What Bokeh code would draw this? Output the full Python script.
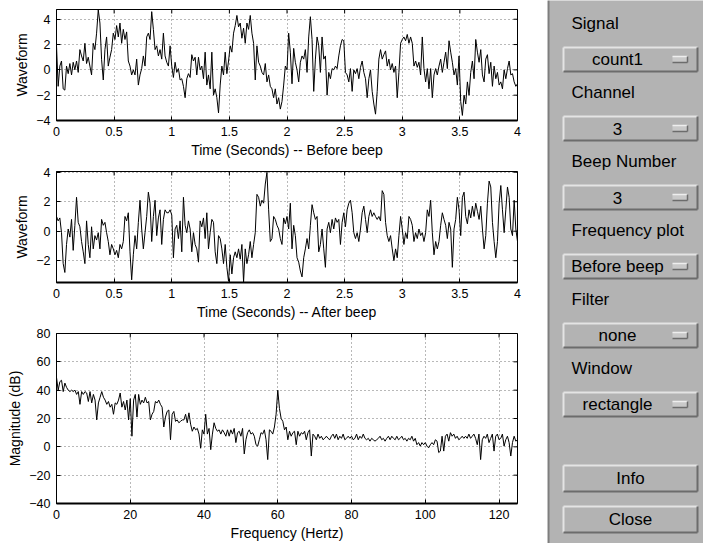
import numpy as np
from bokeh.plotting import figure
from bokeh.models import Range1d, FixedTicker, ColumnDataSource
from bokeh.layouts import row, column
from bokeh.embed import file_html
from bokeh.resources import INLINE
from bokeh.core.properties import value

FONT = "Liberation Sans"

# ---------------- data ----------------
wave_before = [
    1.9, -1.3, 0.3, 0.7, -1.5, -1.6, 0.3, -0.3, 0.5, -0.4,
    0.6, 0.0, 0.7, -0.2, 1.6, 1.1, 0.7, 2.1, 0.5, 1.0,
    0.3, -0.4, 2.1, 1.6, 2.9, 4.75, 3.7, 0.8, -0.8, 1.6,
    2.6, 0.3, 1.0, 1.6, 2.9, 2.4, 3.5, 2.6, 3.7, 2.1,
    3.2, 2.4, 3.0, 0.7, 0.3, -0.4, 0.0, -0.4, 0.85, -1.2,
    -0.4, 0.1, 1.1, 0.3, 2.6, 2.9, 2.4, 4.6, 3.2, 1.6,
    1.9, 1.1, 1.6, 0.85, 2.9, 1.1, 0.6, 0.3, 1.9, 0.3,
    -0.6, 0.6, -0.2, 0.1, -0.8, -0.7, -1.3, -2.2, -0.7, -0.3,
    -0.6, 1.2, 0.7, 1.0, -0.4, 1.0, 0.0, 0.3, -0.7, 1.4,
    -1.2, -0.4, -1.5, 1.4, -2.0, -1.5, -2.2, -3.4, -1.2, 0.3,
    -0.4, 1.4, -0.3, 0.7, 1.9, 1.4, 2.9, 3.5, 4.3, 3.4,
    3.7, 2.5, 3.3, 2.1, 3.7, 3.2, 4.3, 2.9, 2.1, -0.8,
    1.9, 0.6, 0.3, -0.2, -0.4, 0.5, -0.95,
    -0.4, -1.3, -1.5, -2.2, -1.5, -2.7, -2.2, -3.1, -2.5, -1.2,
    0.3, 0.0, 2.9, 1.4, -1.1, 1.7, 0.6, 0.0, -0.95, 0.6,
    1.1, 0.85, 1.6, -0.2, 2.6, 4.2, 2.4, -1.7, 0.85, 2.6,
    1.9, -0.2, 2.6, 0.85, 1.1, -2.0, -0.2, -0.7, 0.1, 0.0,
    0.3, 0.1, 1.1, 1.9, 2.4, 2.3, -0.2, -0.4, -0.95, 0.1,
    -1.7, 0.0, -0.3, 0.1, -0.7, 0.2, 0.7, -0.2, -0.7, -2.2,
    -0.7, 0.0, -1.7, -2.7, -3.5, -1.7, 0.85, 1.6, 0.85, 1.2,
    1.5, 0.3, 0.85, 0.0, 0.5, -0.2, 0.3, -2.2, -0.2, 2.1,
    2.4, 2.6, 2.3, 2.8, 2.1, 2.6, 2.1, 0.3, 0.7, 0.2,
    0.6, -0.4, 2.6, 0.1, -0.95, 0.1, -1.5, 0.1, -2.2, -0.4,
    0.1, -0.4, 0.3, 0.85, -0.2, 0.6, 1.4, 0.1, 2.3, 1.4,
    0.6, -0.4, 0.1, -1.2, 1.1, -2.5, -3.6, -2.0, -2.7, -0.95,
    -2.0, -0.2, 0.7, -0.7, 2.4, 1.4, 0.6, 1.6, -0.4, -0.95,
    0.85, 1.2, -0.3, 0.6, -1.3, 0.3, -0.7, -0.2, -1.2, -0.95,
    -1.5, 0.0, -0.7, 0.1, 0.7, -0.4, -0.3, -0.95, -1.3, -1.1,
]

wave_after = [
    1.0, 0.7, 0.9, -0.1, -2.2, -2.8, -0.9, 0.15, -0.4, 0.8,
    -1.3, 0.4, 2.3, 0.6, 0.3, -0.7, -1.4, -2.2, 0.7, -0.9,
    -1.8, 0.3, -1.2, -0.3, -0.6, -0.1, -1.2, 0.8, 0.4, 0.6,
    -0.1, -0.7, -1.6, -0.9, -1.2, -1.6, -1.3, -1.8, -0.9, -1.2,
    -0.7, 1.0, 0.7, 1.25, -1.4, -3.3, -1.6, -0.3, -1.2, 0.6,
    2.1, 0.15, -1.2, -0.1, 1.0, 2.65, 1.9, -0.7, 1.0, 2.1,
    -0.3, 0.9, 1.45, -0.9, 0.8, 1.45, 1.25, 1.25, 1.45, 1.1,
    -1.8, 0.15, 0.4, -0.5, 0.7, -1.4, 2.3, 0.4, -0.1, 0.7,
    0.15, -1.4, -0.1, -0.9, -1.2, -2.1, 0.7, 0.3, 0.9, -0.5,
    1.25, -1.2, -0.1, 0.8, 0.6, -1.4, -2.2, -0.3, -0.5, -1.2,
    -2.2, -0.9, -2.45, -3.4, -1.6, -2.9, -1.8, -1.4, -1.8, -1.2,
    -1.9, -0.9, -3.45, -1.2, -2.2, -1.6, -0.7, -1.8, -0.9, -0.1,
    2.5, 2.3, 1.7, 2.1, 1.9, 3.2, 4.0,
    1.45, -0.7, -0.5, 1.0, 0.8, 0.4, 0.15, -0.5, -0.9, 0.9,
    0.5, 1.0, 0.15, 1.9, -1.2, 0.4, -0.3, -1.8, -2.1, -2.7,
    -3.1, -1.8, -1.2, -0.5, -1.2, 0.4, 1.8, 1.25, 0.8, 1.0,
    -1.4, -0.9, 0.15, -1.2, -2.45, 0.15, 0.6, -0.1, 0.8, 0.15,
    0.9, 0.6, 0.8, -0.9, 0.6, 1.25, 0.3, 1.45, 1.9, 2.1,
    1.25, -0.1, -0.5, -0.1, -0.7, 0.15, 1.25, 1.7, 0.8, -0.1,
    1.0, 1.45, 1.0, 1.25, 1.0, 0.8, 1.0, 0.7, 2.75, 2.5,
    0.6, -0.3, -0.7, -0.3, -1.2, -2.0, -1.2, -1.8, -0.3, 1.0,
    0.15, -0.9, -0.1, -0.5, 1.0, 0.8, 0.4, -0.7, -0.1, -0.5,
    0.15, -0.3, -0.1, -0.7, -0.1, 1.45, 1.0, 2.1, -0.1, -1.6,
    -0.7, -1.2, -0.7, 0.4, 1.25, 0.8, 0.4, -0.5, 0.6, 0.15,
    -2.45, 0.15, 0.8, 2.3, 1.45, -0.3, 2.3, 2.65, 1.0, 0.5,
    1.45, 0.9, 1.7, 1.0, 1.9, 1.35, 0.8, 1.7, 0.15, -1.2,
    -0.3, 1.9, 3.4, 3.0, 0.6, -0.7, -1.8, -0.7, 1.9, 3.1,
    1.45, -0.1, 1.45, 3.0, 2.3, 0.15, -0.3, 2.1, 0.15, -0.7,
]

spectrum_db = [
    49, 40, 46, 47, 39, 45, 42, 40, 39, 40,
    39, 40, 37, 39, 30, 39, 37, 39, 38, 32,
    39, 31, 37, 33, 19, 31, 35, 39, 35, 33,
    30, 32, 28, 30, 23, 31, 30, 33, 38, 28,
    32, 26, 33, 19, 34, 7.5, 33, 37, 21, 37,
    30, 33, 31, 35, 31, 32, 19, 23, 25, 32,
    31, 33, 30, 28, 14, 21, 25, 26, 5, 23,
    25, 18, 19, 17, 18, 19, 19, 23, 17, 24,
    16, 11, 14, 12, 13, 9, -1, 12, 9, 23,
    9, 13, -2, 9, 17, 13, 11, 12, 9, 12,
    10, 7.5, 12, 7.5, 12, 9, 13, 3, 10, 11,
    7.5, 13, -5, 5, 10, 12, 9, 10, 7.5, 1.5,
    0.5, 5, 10, 9, 12, 5, -9, 12,
    11, 9, 14, 23, 40, 27, 20, 18, 12, 14,
    5, 11, 7.5, 10, 11, 1.5, 11, 7.5, 10, 9,
    11, 5, 10, 12, -6.5, 9, 7.5, 5, 9, 6,
    7.5, 5, 6, 7.5, 6, 5, 7.5, 9, 6, 9,
    5, 7.5, 6, 9, 5, 6, 7.5, 6, 7.5, 5,
    6, 9, 5, 7.5, 6, 9, 6, 5, 6, 4,
    6, 5, 4, 5, 6, 7.5, 5, 6, 4, 6,
    7.5, 5, 7.5, 6, 5, 7.5, 5, 6, 7.5, 5,
    6, 4, 6, 5, 7.5, 4, 6, 1.5, 3, 0.5,
    3, 1.5, 3, 0.5, -0.7, 1.5, 3, 1.5, 5, 4,
    -4, -3, 7.5, -3, 7.5, 9, 4, 10, 7.5, 9,
    6, 7.5, 5, 6, 7.5, 6, 7.5, 6, 9, 6,
    7.5, 9, 6, 1.5, 9, -9, 5, 7.5, 6, 9,
    3, 6, 9, -3, 7.5, 9, 5, 6, 9, 0.5,
    5, 7.5, 3, -6.5, 3, 7.5, 4, 5,
]

duration_s = 4.0
freq_max_hz = 125.0

time_ticks = [0, 0.5, 1, 1.5, 2, 2.5, 3, 3.5, 4]
time_tick_labels = ["0", "0.5", "1", "1.5", "2", "2.5", "3", "3.5", "4"]
wave_ticks = [-4, -2, 0, 2, 4]
wave_tick_labels = ["\u22124", "\u22122", "0", "2", "4"]
freq_ticks = [0, 20, 40, 60, 80, 100, 120]
freq_tick_labels = ["0", "20", "40", "60", "80", "100", "120"]
mag_ticks = [-40, -20, 0, 20, 40, 60, 80]
mag_tick_labels = ["\u221240", "\u221220", "0", "20", "40", "60", "80"]

panel_labels = ["Signal", "Channel", "Beep Number", "Frequency plot", "Filter", "Window"]
panel_choices = ["count1", "3", "3", "Before beep", "none", "rectangle"]
panel_buttons = ["Info", "Close"]

# ---------------- helpers ----------------
def style_axis(ax, ticks, labels, line_width=1):
    ax.ticker = FixedTicker(ticks=ticks)
    ax.major_label_overrides = {t: l for t, l in zip(ticks, labels)}
    ax.axis_line_color = "black"
    ax.axis_line_width = line_width
    ax.major_tick_line_color = "black"
    ax.major_tick_in = 4
    ax.major_tick_out = 0
    ax.minor_tick_line_color = None
    ax.major_label_text_font = FONT
    ax.major_label_text_font_size = "12.5px"
    ax.major_label_text_color = "black"
    ax.major_label_standoff = 6
    ax.axis_label_text_font = FONT
    ax.axis_label_text_font_size = "14px"
    ax.axis_label_text_font_style = "normal"
    ax.axis_label_text_color = "black"
    ax.axis_label_standoff = 3


def make_plot(x, y, xr, yr, xt, xl, yt, yl, xlabel, ylabel, height, top, bottom):
    p = figure(width=547, height=height, x_range=Range1d(*xr), y_range=Range1d(*yr),
               output_backend="svg", toolbar_location=None,
               min_border_left=56, min_border_right=30,
               min_border_top=top, min_border_bottom=bottom,
               background_fill_color="white", border_fill_color="white",
               outline_line_color="black", x_axis_label=xlabel, y_axis_label=ylabel)
    style_axis(p.xaxis[0], xt, xl, line_width=2)
    style_axis(p.yaxis[0], yt, yl)
    p.xgrid.ticker = FixedTicker(ticks=xt)
    p.ygrid.ticker = FixedTicker(ticks=yt)
    for g in (p.xgrid, p.ygrid):
        g.grid_line_color = "#000000"
        g.grid_line_alpha = 0.55
        g.grid_line_dash = "1 3"
        g.grid_line_width = 1
    # inward tick marks on the top and right edges of the box
    p.scatter(x=xt, y=[yr[1]] * len(xt), marker="dash", angle=np.pi / 2, size=8,
              line_color="black", line_width=1)
    p.scatter(x=[xr[1]] * len(yt), y=yt, marker="dash", size=8,
              line_color="black", line_width=1)
    src = ColumnDataSource(dict(x=x, y=y))
    p.line("x", "y", source=src, line_color="black", line_width=1)
    return p


t1 = np.linspace(0, duration_s, len(wave_before))
t2 = np.linspace(0, duration_s, len(wave_after))
fq = np.linspace(0, freq_max_hz, len(spectrum_db))

p1 = make_plot(t1, wave_before, (0, 4), (-4, 4.77), time_ticks, time_tick_labels,
               wave_ticks, wave_tick_labels, "Time (Seconds) -- Before beep", "Waveform",
               160, 9, 36)
p2 = make_plot(t2, wave_after, (0, 4), (-3.48, 4.05), time_ticks, time_tick_labels,
               wave_ticks, wave_tick_labels, "Time (Seconds) -- After beep", "Waveform",
               162, 11, 36)
p3 = make_plot(fq, spectrum_db, (0, 125), (-40, 80), freq_ticks, freq_tick_labels,
               mag_ticks, mag_tick_labels, "Frequency (Hertz)", "Magnitude (dB)",
               221, 11, 39)

# ---------------- control panel ----------------
GRAY = "#b3b3b3"
LIGHT = "#e4e4e4"
DARK = "#6c6c6c"
PW, PH = 156, 543
panel = figure(width=PW, height=PH, x_range=Range1d(0, PW), y_range=Range1d(PH, 0),
               x_axis_type=None, y_axis_type=None, output_backend="svg",
               toolbar_location=None, min_border=0, background_fill_color=GRAY,
               border_fill_color=GRAY, outline_line_color=None)

# left edge of the panel
panel.segment(x0=[1], y0=[0], x1=[1], y1=[PH], line_color="#7e7e7e", line_width=2)

bx0, bx1 = 16, 150
row0, period = 22.5, 69
label_y = [row0 + period * i for i in range(len(panel_labels))]
popup_y = [ly + 36.5 for ly in label_y]
button_y = [478, 519]

boxes = ([(bx0, bx1, cy - 12, cy + 12) for cy in popup_y] +
         [(bx0, bx1, cy - 13, cy + 13) for cy in button_y])
panel.quad(left=[b[0] for b in boxes], right=[b[1] for b in boxes],
           top=[b[2] for b in boxes], bottom=[b[3] for b in boxes],
           fill_color=GRAY, line_color=None)
# bevels
lx0, ly0, lx1, ly1, dx0, dy0, dx1, dy1 = [], [], [], [], [], [], [], []
for (a, b, t, u) in boxes:
    lx0 += [a, a]; ly0 += [t, t]; lx1 += [b, a]; ly1 += [t, u]
    dx0 += [a, b]; dy0 += [u, t]; dx1 += [b, b]; dy1 += [u, u]
panel.segment(x0=lx0, y0=ly0, x1=lx1, y1=ly1, line_color=LIGHT, line_width=2)
panel.segment(x0=dx0, y0=dy0, x1=dx1, y1=dy1, line_color=DARK, line_width=2)

# popup indicators
ix0, ix1 = 125, 140
n = len(popup_y)
panel.quad(left=[ix0] * n, right=[ix1] * n,
           top=[cy - 3 for cy in popup_y], bottom=[cy + 3 for cy in popup_y],
           fill_color="#c9c9c9", line_color=None)
panel.segment(x0=[ix0] * n, y0=[cy - 3 for cy in popup_y],
              x1=[ix1] * n, y1=[cy - 3 for cy in popup_y],
              line_color="#eeeeee", line_width=1.5)
panel.segment(x0=[ix0] * n, y0=[cy + 3 for cy in popup_y],
              x1=[ix1] * n, y1=[cy + 3 for cy in popup_y],
              line_color=DARK, line_width=1.5)
panel.segment(x0=[ix1] * n, y0=[cy - 3 for cy in popup_y],
              x1=[ix1] * n, y1=[cy + 3 for cy in popup_y],
              line_color=DARK, line_width=1.5)

TXT = dict(text_font=value(FONT), text_font_size="17px", text_color="black",
           text_baseline="middle")
panel.text(x=[24] * len(panel_labels), y=label_y, text=panel_labels, text_align="left", **TXT)
panel.text(x=[70] * len(panel_choices), y=popup_y, text=panel_choices,
           text_align="center", **TXT)
panel.text(x=[(bx0 + bx1) / 2] * len(panel_buttons), y=button_y, text=panel_buttons,
           text_align="center", **TXT)

layout = row(column(p1, p2, p3), panel)
open("out.html", "w").write(file_html(layout, INLINE))
